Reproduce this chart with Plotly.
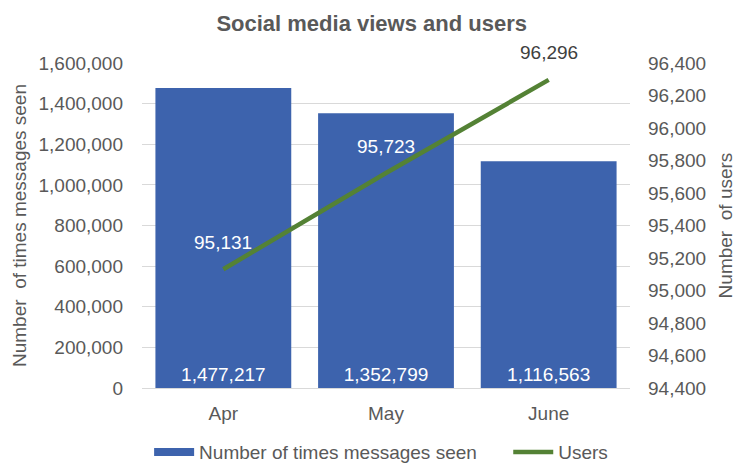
import plotly.graph_objects as go

months = ["Apr", "May", "June"]
views = [1477217, 1352799, 1116563]
users = [95131, 95723, 96296]
user_label_colors = ["white", "white", "#404040"]

left_ticks = list(range(0, 1600001, 200000))
right_ticks = list(range(94400, 96401, 200))

FONT = "Liberation Sans, Arial, sans-serif"
GREY = "#595959"
BLUE = "#3d63ad"
GREEN = "#548235"
FS = 19

fig = go.Figure()
fig.add_trace(go.Bar(
    x=months, y=views, name="Number of times messages seen",
    marker=dict(color=BLUE, line=dict(width=0)),
    text=[f"{v:,}" for v in views], textposition="inside",
    insidetextanchor="start", textangle=0,
    textfont=dict(color="white", size=FS, family=FONT),
    yaxis="y", showlegend=False,
))
# legend swatch for the bars, drawn as a thick band
fig.add_trace(go.Scatter(
    x=[None], y=[None], mode="lines",
    name="Number of times messages seen\u00a0\u00a0\u00a0\u00a0\u00a0",
    line=dict(color=BLUE, width=8), yaxis="y",
))
fig.add_trace(go.Scatter(
    x=months, y=users, name="Users", mode="lines",
    line=dict(color=GREEN, width=4.5),
    yaxis="y2",
))

# value labels above the user line
for m, u, c in zip(months, users, user_label_colors):
    fig.add_annotation(x=m, y=u, xref="x", yref="y2", text=f"{u:,}",
                       showarrow=False, yshift=27,
                       font=dict(color=c, size=FS, family=FONT))

fig.update_layout(
    width=736, height=463,
    margin=dict(l=142, r=106, t=63, b=75, autoexpand=False),
    paper_bgcolor="white", plot_bgcolor="white",
    font=dict(family=FONT, color=GREY, size=FS),
    title=dict(text="<b>Social media views and users</b>", x=0.505, xanchor="center",
               y=0.95, yanchor="middle", font=dict(size=22, color=GREY, family=FONT)),
    bargap=0.165,
    uniformtext=dict(mode=False),
    xaxis=dict(showline=True, linecolor="#d9d9d9", ticks="", ticklabelstandoff=8,
               tickfont=dict(size=FS, color=GREY)),
    yaxis=dict(range=[0, 1600000], tickvals=left_ticks,
               ticktext=[f"{v:,}" for v in left_ticks],
               showgrid=True, gridcolor="#d9d9d9", gridwidth=1.3, zeroline=False,
               ticklabelstandoff=18,
               tickfont=dict(size=FS, color=GREY),
               title=dict(text="Number  of times messages seen", font=dict(size=FS, color=GREY),
                          standoff=6)),
    yaxis2=dict(range=[94400, 96400], tickvals=right_ticks,
                ticktext=[f"{v:,}" for v in right_ticks],
                overlaying="y", side="right", showgrid=False, zeroline=False,
                ticklabelstandoff=17,
                tickfont=dict(size=FS, color=GREY),
                title=dict(text="Number  of users", font=dict(size=FS, color=GREY),
                           standoff=14)),
    legend=dict(orientation="h", x=0.49, xanchor="center", y=-0.197, yanchor="middle",
                font=dict(size=FS, color=GREY), itemwidth=40, tracegroupgap=0),
    showlegend=True,
)

fig.write_html("out.html")
